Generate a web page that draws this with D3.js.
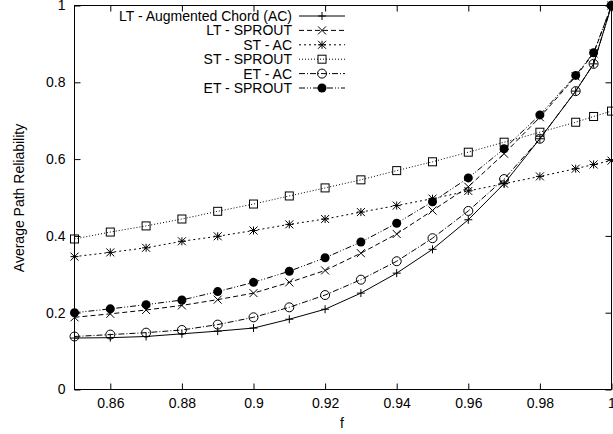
<!DOCTYPE html>
<html><head><meta charset="utf-8">
<script src="https://cdn.jsdelivr.net/npm/d3@7"></script>
<style>body{margin:0;background:#fff}svg{display:block}text{font-family:"Liberation Sans",Arial,sans-serif;font-size:14px;fill:#000}</style>
</head><body><svg id="c" width="613" height="434"></svg>
<script>
const fValues = [0.85,0.86,0.87,0.88,0.89,0.90,0.91,0.92,0.93,0.94,0.95,0.96,0.97,0.98,0.99,0.995,1.0];
const ltAC     = [0.134,0.135,0.138,0.145,0.152,0.160,0.183,0.209,0.251,0.303,0.365,0.442,0.536,0.653,0.777,0.848,1.0];
const ltSPROUT = [0.188,0.197,0.207,0.219,0.234,0.251,0.279,0.310,0.355,0.405,0.466,0.528,0.614,0.709,0.815,0.875,1.0];
const stAC     = [0.346,0.357,0.369,0.386,0.399,0.414,0.430,0.444,0.462,0.479,0.497,0.517,0.536,0.555,0.575,0.586,0.596];
const stSPROUT = [0.392,0.410,0.426,0.444,0.464,0.483,0.504,0.525,0.546,0.570,0.593,0.618,0.644,0.670,0.696,0.711,0.725];
const etAC     = [0.138,0.143,0.148,0.155,0.169,0.188,0.214,0.246,0.286,0.334,0.394,0.465,0.548,0.653,0.777,0.848,1.0];
const etSPROUT = [0.200,0.210,0.221,0.233,0.255,0.279,0.308,0.343,0.384,0.433,0.489,0.551,0.627,0.715,0.818,0.877,1.0];
const seriesNames = ["LT - Augmented Chord (AC)","LT - SPROUT","ST - AC","ST - SPROUT","ET - AC","ET - SPROUT"];
const xTicks = [0.86,0.88,0.9,0.92,0.94,0.96,0.98,1];
const xTickLabels = ["0.86","0.88","0.9","0.92","0.94","0.96","0.98","1"];
const yTicks = [0,0.2,0.4,0.6,0.8,1];
const yTickLabels = ["0","0.2","0.4","0.6","0.8","1"];
const xTitle = "f", yTitle = "Average Path Reliability";

const series = [ltAC, ltSPROUT, stAC, stSPROUT, etAC, etSPROUT];
const markers = ["plus","cross","star","square","circle","dot"];
const dashes = [null,"5,3","2,3","1,2","6,2,1,2","6,2,1,2,1,2"];

const L=74.5, R=611.5, T=5.5, B=389.5;
const x = d3.scaleLinear().domain([0.85,1]).range([L,R]);
const y = d3.scaleLinear().domain([0,1]).range([B,T]);
const svg = d3.select("#c");

const tl = 6;
const gx = svg.append("g").attr("transform",`translate(0,${B})`)
  .call(d3.axisBottom(x).tickValues(xTicks).tickFormat((d,i)=>xTickLabels[i]).tickSizeInner(-tl).tickSizeOuter(0));
const gy = svg.append("g").attr("transform",`translate(${L},0)`)
  .call(d3.axisLeft(y).tickValues(yTicks).tickFormat((d,i)=>yTickLabels[i]).tickSizeInner(-tl).tickSizeOuter(0).tickPadding(9));
const gt = svg.append("g").attr("transform",`translate(0,${T})`)
  .call(d3.axisTop(x).tickValues(xTicks).tickFormat("").tickSizeInner(-tl).tickSizeOuter(0));
const gr = svg.append("g").attr("transform",`translate(${R},0)`)
  .call(d3.axisRight(y).tickValues(yTicks).tickFormat("").tickSizeInner(-tl).tickSizeOuter(0));
[gx,gy,gt,gr].forEach(g=>{g.select(".domain").remove();g.selectAll("line").attr("stroke","#000");g.selectAll("text").attr("font-size",null).attr("font-family",null);});
gx.selectAll("text").attr("y",14).attr("dy","0.35em");
svg.append("rect").attr("x",L).attr("y",T).attr("width",R-L).attr("height",B-T).attr("fill","none").attr("stroke","#000");

svg.append("text").attr("x",342).attr("y",423).attr("dy","0.35em").attr("text-anchor","middle").text(xTitle);
svg.append("text").attr("transform","translate(19,198) rotate(-90)").attr("dy","0.35em").attr("text-anchor","middle").text(yTitle);

function marker(g, type, cx, cy){
  const s=4;
  if(type==="plus"){g.append("path").attr("d",`M${cx-s},${cy}H${cx+s}M${cx},${cy-s}V${cy+s}`).attr("stroke","#000").attr("fill","none");}
  else if(type==="cross"){g.append("path").attr("d",`M${cx-s},${cy-s}L${cx+s},${cy+s}M${cx-s},${cy+s}L${cx+s},${cy-s}`).attr("stroke","#000").attr("fill","none");}
  else if(type==="star"){g.append("path").attr("d",`M${cx-s},${cy}H${cx+s}M${cx},${cy-s}V${cy+s}M${cx-s},${cy-s}L${cx+s},${cy+s}M${cx-s},${cy+s}L${cx+s},${cy-s}`).attr("stroke","#000").attr("fill","none");}
  else if(type==="square"){g.append("rect").attr("x",cx-s).attr("y",cy-s).attr("width",2*s).attr("height",2*s).attr("stroke","#000").attr("fill","none");}
  else if(type==="circle"){g.append("circle").attr("cx",cx).attr("cy",cy).attr("r",s+0.5).attr("stroke","#000").attr("fill","none");}
  else if(type==="dot"){g.append("circle").attr("cx",cx).attr("cy",cy).attr("r",s+0.5).attr("fill","#000");}
}

const line = d3.line().x(d=>x(d[0])).y(d=>y(d[1]));
series.forEach((vals,i)=>{
  const g = svg.append("g");
  const pts = fValues.map((f,j)=>[f,vals[j]]);
  g.append("path").attr("d",line(pts)).attr("fill","none").attr("stroke","#000").attr("stroke-width",1)
    .attr("stroke-dasharray",dashes[i]);
  pts.forEach(p=>marker(g,markers[i],x(p[0]),y(p[1])));
});

const lg = svg.append("g");
const ly0=16, ldy=14.4, lx1=299, lx2=345;
seriesNames.forEach((n,i)=>{
  const yy = ly0+i*ldy;
  lg.append("text").attr("x",292).attr("y",yy).attr("dy","0.35em").attr("text-anchor","end").text(n);
  lg.append("line").attr("x1",lx1).attr("x2",lx2).attr("y1",yy).attr("y2",yy).attr("stroke","#000").attr("stroke-dasharray",dashes[i]);
  marker(lg,markers[i],(lx1+lx2)/2,yy);
});
</script></body></html>
